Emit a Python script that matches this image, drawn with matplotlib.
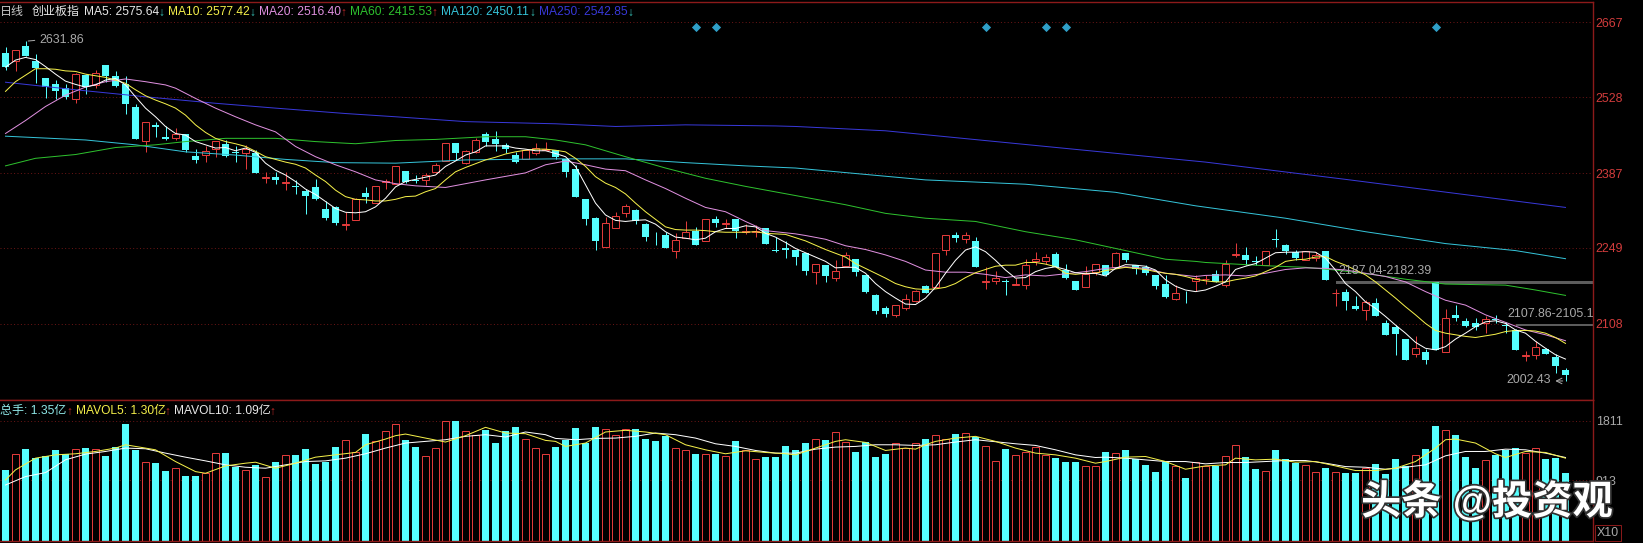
import numpy as np
import matplotlib
matplotlib.use('Agg')
import matplotlib.pyplot as plt
import matplotlib.patheffects as pe

W, H = 1643, 543

open_ = [2610,2595,2623,2595,2563,2552,2545,2524,2569,2551,
         2587,2567,2552,2510,2448,2477,2455,2453,2460,2419,
         2421,2432,2441,2427,2424,2424,2379,2380,2370,2363,
         2355,2361,2322,2324,2292,2301,2350,2333,2371,2367,
         2391,2375,2374,2390,2410,2443,2406,2426,2460,2450,
         2439,2421,2413,2424,2430,2431,2414,2395,2340,2304,
         2251,2286,2313,2319,2293,2277,2273,2244,2267,2281,
         2262,2302,2293,2302,2278,2279,2285,2245,2248,2246,
         2240,2204,2217,2194,2215,2228,2199,2162,2138,2125,
         2138,2151,2178,2177,2245,2272,2266,2262,2186,2188,
         2188,2180,2180,2224,2225,2238,2208,2187,2177,2205,
         2217,2213,2240,2217,2213,2199,2182,2154,2149,2188,
         2191,2200,2180,2236,2236,2224,2217,2265,2254,2241,
         2226,2231,2243,2165,2167,2141,2133,2146,2109,2102,
         2081,2053,2056,2185,2057,2125,2114,2110,2109,2117,
         2107,2097,2049,2051,2062,2047,2023]
close = [2584,2615,2605,2582,2547,2540,2529,2572,2547,2574,
         2568,2549,2516,2451,2482,2473,2451,2460,2430,2412,
         2429,2447,2420,2425,2432,2387,2381,2375,2372,2361,
         2345,2339,2304,2296,2293,2340,2343,2363,2373,2400,
         2371,2373,2385,2403,2443,2424,2428,2449,2445,2442,
         2432,2409,2430,2435,2432,2418,2390,2344,2303,2262,
         2296,2309,2327,2298,2269,2276,2248,2263,2278,2255,
         2302,2296,2295,2280,2280,2281,2257,2244,2246,2233,
         2206,2220,2196,2207,2235,2205,2167,2132,2127,2144,
         2154,2169,2166,2239,2272,2268,2272,2214,2188,2193,
         2185,2182,2217,2229,2233,2214,2193,2171,2201,2219,
         2199,2239,2227,2209,2203,2178,2158,2165,2148,2194,
         2192,2186,2219,2238,2227,2222,2243,2264,2243,2230,
         2243,2236,2190,2166,2151,2135,2148,2122,2088,2090,
         2042,2064,2042,2060,2119,2119,2104,2102,2118,2115,
         2105,2059,2051,2065,2053,2031,2013]
high = [2621,2615,2631.86,2608,2563,2560,2553,2574,2571,2579,
        2587,2577,2568,2516,2482,2483,2474,2472,2460,2432,
        2437,2447,2449,2437,2440,2430,2390,2389,2389,2375,
        2359,2377,2336,2327,2315,2341,2361,2363,2376,2400,
        2391,2384,2388,2406,2443,2443,2430,2452,2463,2466,
        2443,2427,2430,2443,2445,2431,2414,2403,2340,2307,
        2307,2316,2330,2321,2295,2279,2279,2276,2299,2288,
        2302,2309,2302,2302,2293,2292,2286,2269,2261,2246,
        2240,2220,2218,2227,2242,2228,2199,2163,2141,2144,
        2164,2171,2180,2239,2273,2278,2278,2269,2213,2207,
        2191,2194,2229,2241,2238,2241,2220,2187,2215,2219,
        2217,2241,2240,2217,2217,2199,2199,2180,2170,2198,
        2199,2208,2227,2259,2251,2234,2244,2284,2257,2246,
        2243,2242,2243,2172,2172,2160,2152,2157,2115,2106,
        2081,2085,2061,2185,2135,2143,2119,2120,2122,2125,
        2112,2099,2058,2077,2064,2052,2026]
low = [2579,2576,2605,2555,2527,2525,2525,2518,2534,2545,
       2557,2547,2497,2451,2427,2455,2449,2449,2427,2407,
       2409,2418,2418,2408,2395,2387,2370,2367,2356,2349,
       2312,2338,2301,2292,2282,2301,2333,2333,2359,2367,
       2370,2369,2366,2387,2410,2411,2405,2424,2437,2429,
       2424,2407,2413,2422,2430,2414,2380,2344,2292,2245,
       2251,2285,2306,2293,2261,2254,2248,2231,2267,2255,
       2261,2287,2285,2268,2275,2269,2257,2242,2231,2217,
       2199,2182,2186,2188,2215,2197,2166,2127,2121,2121,
       2133,2149,2165,2177,2236,2260,2259,2214,2172,2182,
       2162,2180,2173,2217,2219,2213,2192,2171,2177,2199,
       2196,2211,2223,2201,2199,2173,2157,2153,2146,2170,
       2183,2185,2176,2232,2217,2217,2217,2251,2238,2227,
       2226,2224,2190,2141,2133,2134,2115,2122,2088,2051,
       2042,2046,2034,2060,2057,2114,2103,2097,2092,2110,
       2092,2059,2039,2043,2052,2018,2002.43]
volume = [1073,1311,1392,1250,1285,1376,1316,1386,1407,1386,
          1285,1422,1771,1376,1189,1179,1058,1098,982,982,
          1022,1326,1331,1123,1068,1149,961,1194,1295,1300,
          1392,1169,1194,1422,1523,1341,1619,1508,1660,1766,
          1528,1422,1280,1402,1811,1817,1660,1604,1680,1483,
          1665,1725,1538,1402,1311,1422,1523,1710,1478,1725,
          1690,1599,1690,1690,1543,1513,1589,1402,1371,1316,
          1311,1316,1285,1513,1366,1240,1270,1270,1437,1376,
          1483,1538,1528,1645,1493,1346,1493,1270,1316,1478,
          1407,1478,1543,1599,1538,1619,1629,1569,1432,1209,
          1392,1295,1336,1417,1295,1255,1194,1194,1128,1128,
          1346,1326,1376,1240,1149,1042,1194,1133,956,1199,
          1133,1133,1280,1447,1265,1088,1052,1376,1240,1184,
          1144,1037,1103,1042,1027,1027,1103,1164,1012,1240,
          1133,1295,1392,1741,1675,1604,1270,1103,1219,1300,
          1376,1402,1331,1402,1240,1255,1027]

ma5 = [2584,2597,2602,2598,2585,2571,2558,2552,2547,2551,
       2560,2563,2551,2529,2508,2492,2474,2461,2458,2446,
       2440,2434,2435,2429,2434,2426,2406,2393,2384,2372,
       2358,2348,2335,2322,2315,2314,2316,2325,2341,2362,
       2372,2376,2380,2384,2400,2410,2421,2427,2438,2438,
       2438,2434,2432,2429,2429,2424,2418,2400,2366,2332,
       2310,2300,2298,2300,2301,2293,2279,2269,2267,2264,
       2267,2279,2285,2285,2290,2288,2276,2269,2259,2248,
       2240,2232,2224,2212,2213,2213,2202,2183,2168,2156,
       2145,2144,2156,2176,2202,2226,2245,2251,2242,2226,
       2208,2193,2194,2205,2211,2214,2209,2203,2201,2202,
       2197,2211,2218,2217,2215,2208,2190,2178,2171,2168,
       2171,2178,2186,2209,2215,2220,2230,2240,2241,2241,
       2242,2241,2230,2208,2183,2168,2149,2137,2122,2106,
       2091,2074,2063,2060,2066,2080,2091,2103,2112,2114,
       2109,2097,2091,2076,2063,2051,2043]
ma10 = [2539,2557,2569,2581,2581,2580,2577,2576,2571,2568,
        2565,2560,2554,2542,2531,2523,2516,2508,2495,2477,
        2463,2452,2446,2442,2437,2428,2418,2413,2408,2404,
        2397,2384,2372,2356,2344,2339,2338,2336,2336,2339,
        2344,2345,2353,2359,2375,2390,2398,2405,2412,2417,
        2423,2427,2430,2432,2432,2430,2427,2415,2400,2381,
        2369,2361,2349,2332,2316,2302,2288,2283,2282,2282,
        2281,2279,2278,2278,2278,2279,2276,2275,2274,2268,
        2262,2254,2246,2239,2232,2220,2211,2202,2193,2183,
        2177,2173,2172,2173,2176,2183,2194,2203,2209,2215,
        2217,2217,2222,2222,2219,2214,2202,2200,2202,2202,
        2207,2210,2213,2211,2209,2205,2202,2200,2196,2191,
        2188,2186,2186,2190,2193,2197,2205,2213,2224,2227,
        2228,2232,2233,2224,2217,2208,2199,2186,2171,2156,
        2140,2125,2109,2096,2091,2088,2085,2083,2086,2089,
        2094,2096,2096,2095,2091,2083,2072]

ma20_x = [0,2,4,6,8,10,12,14,16,17,19,21,23,25,27,29,31,33,35,37,39,41,44,48,52,54,56,58,60,62,64,66,68,70,72,74,76,78,79,
          80,82,84,86,88,90,92,94,96,98,100,102,104,106,108,110,112,114,116,118,119,
          120,122,124,126,128,130,132,134,136,138,140,142,144,146,148,150,152,154,156]
ma20_y = [2461,2485,2511,2532,2547,2557,2562,2557,2551,2545,2526,2508,2492,2477,2464,2437,2418,2403,2390,2375,2368,2364,2361,2375,2388,2403,2410,2403,2395,2392,2375,2359,2341,2324,2316,2298,2281,2277,2275,
          2272,2265,2253,2246,2236,2224,2208,2204,2204,2200,2194,2199,2197,2201,2205,2211,2214,2211,2202,2198,2196,
          2198,2199,2197,2202,2209,2212,2211,2208,2202,2196,2186,2168,2152,2143,2125,2111,2097,2088,2077]
ma60_x = [0,3,7,11,15,18,22,27,31,35,39,43,48,52,55,58,62,66,70,74,79,84,88,92,97,102,107,111,116,119,120,126,130,133,137,140,144,150,153,156]
ma60_y = [2401,2415,2422,2435,2440,2446,2452,2452,2446,2442,2448,2450,2455,2455,2449,2440,2418,2397,2378,2363,2346,2329,2313,2304,2298,2279,2264,2248,2228,2224,2222,2216,2213,2208,2199,2191,2182,2180,2171,2161]
ma120_x = [0,8,13,18,23,28,33,39,46,55,62,68,74,79,92,102,111,119,128,136,144,151,156]
ma120_y = [2456,2449,2440,2427,2421,2413,2407,2406,2412,2414,2414,2407,2401,2397,2375,2367,2352,2327,2304,2279,2257,2244,2229]
ma250_x = [0,7,14,21,27,34,39,46,55,61,68,77,79,88,104,120,134,156]
ma250_y = [2556,2542,2529,2517,2508,2498,2492,2483,2479,2474,2477,2475,2474,2466,2437,2408,2376,2324]

mavol5_x = [0,1,3,5,7,9,11,12,14,15,17,19,20,22,24,25,27,29,31,33,35,36,38,39,40,42,44,46,48,50,52,54,
            55,56,58,60,62,64,66,68,70,72,74,76,78,79,81,83,84,86,88,90,91,92,93,95,97,99,101,103,105,107,109,
            110,112,114,116,118,120,122,123,125,127,129,131,133,135,137,139,141,143,144,145,147,149,150,152,154,156]
mavol5_y = [921,1073,1250,1300,1316,1351,1402,1452,1402,1376,1199,1047,1022,1133,1174,1189,1098,1174,1265,1300,1336,1452,1538,1589,1614,1553,1493,1589,1715,1629,1619,1518,
            1503,1427,1478,1645,1670,1645,1604,1452,1376,1316,1361,1336,1316,1300,1402,1503,1528,1488,1366,1402,1386,1452,1503,1553,1579,1503,1402,1326,1300,1250,1174,
            1199,1265,1275,1199,1083,1133,1149,1250,1224,1235,1189,1199,1133,1063,1063,1098,1199,1402,1528,1538,1478,1316,1260,1351,1336,1250]
mavol10_x = [0,2,4,6,8,10,12,14,16,18,20,22,24,26,28,30,32,34,36,38,40,42,44,46,48,50,52,54,
             55,57,59,61,63,65,67,69,71,73,75,77,79,81,83,85,87,89,91,93,95,97,99,101,103,105,107,109,
             110,112,114,116,118,120,122,124,126,128,130,132,134,136,138,140,142,144,146,148,150,152,154,156]
mavol10_y = [845,972,1032,1225,1311,1351,1402,1392,1326,1265,1209,1149,1113,1098,1149,1199,1209,1250,1316,1402,1478,1503,1528,1579,1604,1569,1645,1604,
             1548,1528,1548,1553,1579,1629,1604,1553,1467,1427,1366,1326,1326,1386,1417,1427,1452,1452,1442,1452,1493,1528,1498,1467,1442,1376,1300,1260,
             1265,1250,1224,1199,1199,1164,1184,1184,1199,1214,1214,1174,1123,1113,1083,1113,1149,1285,1351,1351,1386,1376,1326,1260]

price_ticks = [2108, 2249, 2387, 2528, 2667]
vol_ticks = [913, 1811]
buy_marks = [69, 71, 98, 104, 106, 143]
gaps = [(133, 2187.04, 2182.39), (151, 2107.86, 2105.1)]

RED = '#e03a3a'
CYAN = '#55fdfd'
FRAME = '#8c1a1a'
GRID = '#6e1616'
GRAY = '#a8a8a8'
LINE = 0.72

fig = plt.figure(figsize=(W / 100, H / 100), dpi=100, facecolor='black')


def add_panel(top, bottom):
    ax = fig.add_axes([0, 1 - bottom / H, 1593 / W, (bottom - top) / H], facecolor='black')
    ax.set_xlim(-0.55, 158.75)
    ax.set_xticks([])
    for side in ['left']:
        ax.spines[side].set_visible(False)
    for side in ['top', 'right', 'bottom']:
        ax.spines[side].set_color(FRAME)
        ax.spines[side].set_linewidth(1)
    ax.yaxis.tick_right()
    ax.tick_params(axis='y', length=0, pad=2, labelsize=8.9)
    ax.grid(axis='y', color=GRID, linestyle=(0, (1, 2.5)), linewidth=0.7)
    ax.set_axisbelow(True)
    return ax


def label(x, y, text, color, size=8.64, **kw):
    kw.setdefault('family', ['Liberation Sans', 'Noto Sans CJK SC', 'DejaVu Sans'])
    return fig.text(x / W, 1 - y / H, text, color=color, fontsize=size, va='center', **kw)


ax = add_panel(1.7, 400.3)
ax.set_ylim(1966.6, 2705.2)
ax.set_yticks(price_ticks)
ax.set_yticklabels([str(t) for t in price_ticks], color='#d23c3c', family='Liberation Sans')

vx = fig.add_axes
ax2 = add_panel(400.3, 541)
ax2.set_ylim(0, 2123)
ax2.set_yticks(vol_ticks)
ax2.set_yticklabels([str(t) for t in vol_ticks], color=GRAY, family='Liberation Sans')

x = np.arange(len(close))
o = np.array(open_, dtype=float)
c = np.array(close, dtype=float)
hi = np.array(high, dtype=float)
lo = np.array(low, dtype=float)
vol = np.array(volume, dtype=float)
up = c >= o
top = np.maximum(o, c)
bot = np.minimum(o, c)

ax.vlines(x[up], lo[up], hi[up], color=RED, linewidth=LINE, zorder=2)
ax.vlines(x[~up], lo[~up], hi[~up], color=CYAN, linewidth=LINE, zorder=2)
ax.bar(x[up], (top - bot)[up], bottom=bot[up], width=0.62, facecolor='black', edgecolor=RED, linewidth=LINE, zorder=3)
ax.bar(x[~up], (top - bot)[~up], bottom=bot[~up], width=0.7, color=CYAN, linewidth=0, zorder=3)

ax.plot(ma250_x, ma250_y, color='#3838d8', linewidth=LINE, zorder=4)
ax.plot(ma120_x, ma120_y, color='#35c3d8', linewidth=LINE, zorder=4)
ax.plot(ma60_x, ma60_y, color='#2ec02e', linewidth=LINE, zorder=4)
ax.plot(ma20_x, ma20_y, color='#e090e0', linewidth=LINE, zorder=4)
ax.plot(x, ma10, color='#f5f04a', linewidth=LINE, zorder=5)
ax.plot(x, ma5, color='white', linewidth=LINE, zorder=6)

ax.scatter(buy_marks, [2659] * len(buy_marks), marker='D', s=22, color='#2f9fc8', linewidths=0, zorder=5)

for start, a, b in gaps:
    ax.fill_between([start, 158.75], a, b, color='#5c5c5c', linewidth=0, zorder=1)

ax2.bar(x[up], vol[up], width=0.62, facecolor='black', edgecolor=RED, linewidth=LINE, zorder=2)
ax2.bar(x[~up], vol[~up], width=0.7, color=CYAN, linewidth=0, zorder=2)
ax2.plot(mavol10_x, mavol10_y, color='white', linewidth=LINE, zorder=4)
ax2.plot(mavol5_x, mavol5_y, color='#f5f04a', linewidth=LINE, zorder=5)

# header of the price panel
label(0, 12, '日线', '#c8c8c8')
label(32, 12, '创业板指', '#e8e8e8')
label(84, 12, 'MA5: 2575.64', '#e8e8e8')
label(158, 13, '↓', '#35c3b8')
label(168, 12, 'MA10: 2577.42', '#f5f04a')
label(249, 13, '↓', '#35c3b8')
label(259, 12, 'MA20: 2516.40', '#e090e0')
label(340, 13, '↑', '#c02828')
label(350, 12, 'MA60: 2415.53', '#2ec02e')
label(431, 13, '↑', '#c02828')
label(441, 12, 'MA120: 2450.11', '#35c3d8')
label(529, 13, '↓', '#35c3b8')
label(539, 12, 'MA250: 2542.85', '#3838d8')
label(627, 13, '↓', '#35c3b8')

# header of the volume panel
label(0, 411, '总手: 1.35亿', '#8fe8e8')
label(66, 412, '↑', '#c02828')
label(76.5, 411, 'MAVOL5: 1.30亿', '#f5f04a')
label(164, 412, '↑', '#c02828')
label(174, 411, 'MAVOL10: 1.09亿', '#e8e8e8')
label(269, 412, '↑', '#c02828')

# high, low and gap notes
label(39, 40, '2631.86', GRAY, size=8.9)
ax.annotate('', xy=(2, 2631.86), xytext=(3.2, 2634), arrowprops=dict(arrowstyle='-', color=GRAY, linewidth=LINE), zorder=7)
label(1506, 380, '2002.43', GRAY, size=8.9)
ax.annotate('', xy=(156, 2002.43), xytext=(154.7, 2002.43), arrowprops=dict(arrowstyle='<-', color=GRAY, linewidth=LINE), zorder=7)
label(1338, 271, '2187.04-2182.39', GRAY, size=8.9)
label(1507, 314, '2107.86-2105.1', GRAY, size=8.9)

label(1597, 532.7, 'X10', GRAY, size=8.9,
      bbox=dict(facecolor='black', edgecolor=FRAME, linewidth=0.7, pad=1.5))

mark = label(1361, 502, '头条 @投资观', 'white', size=29, weight='bold', zorder=20)
mark.set_path_effects([pe.withStroke(linewidth=2.5, foreground='#303030')])

fig.savefig('out.png', dpi=100, facecolor='black')
